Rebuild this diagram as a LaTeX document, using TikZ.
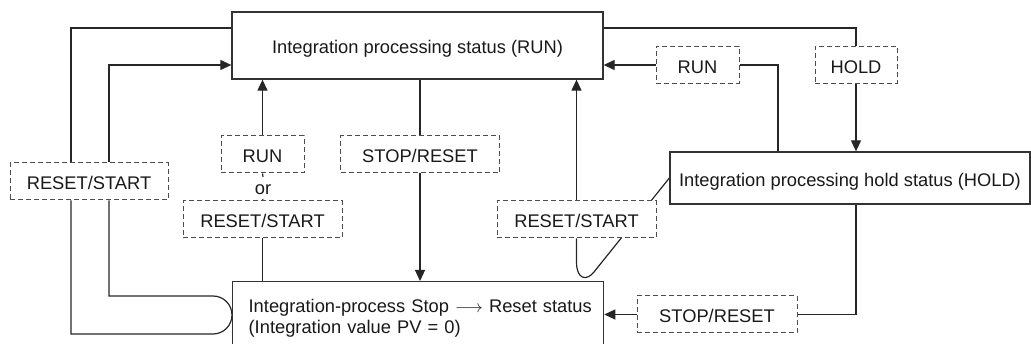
\documentclass[tikz,border=0pt]{standalone}
\usepackage{fontspec}
\setmainfont{Liberation Sans}
\usetikzlibrary{arrows.meta,backgrounds}
\tikzset{
  box/.style={draw=black!80,line width=1.3pt,fill=white,inner sep=0pt},
  status/.style={box,text height=17pt,text depth=0pt},
  cond/.style={draw=black!70,dash pattern=on 5pt off 3pt,line width=1pt,fill=white,
    minimum height=37pt,inner sep=0pt,text height=17pt,text depth=0pt},
  wire/.style={draw=black!85,line width=1.2pt},
  flow/.style={wire,-{Triangle[length=11pt,width=10pt]}},
}

\begin{document}
\begin{tikzpicture}[x=1pt,y=-1pt,font=\fontsize{18.3pt}{21pt}\selectfont,text=black!90]
\path[use as bounding box,clip] (0,0) rectangle (1031,344);
% states
\node[status,minimum width=371pt,minimum height=67pt] (run) at (417.5,45.5) {Integration processing status (RUN)};
\node[status,minimum width=360pt,minimum height=52pt] (hold) at (850,178) {Integration processing hold status (HOLD)};
\node[box,anchor=north west,minimum width=371pt,minimum height=73pt,inner xsep=16pt,
  text width=339pt,align=left] (stop) at (232,281) {\mbox{Integration-process Stop $\longrightarrow$ Reset status}\\(Integration value PV = 0)};
% conditions
\node[cond,minimum width=158pt] (lrs) at (89,181.5) {RESET/START};
\node[cond,minimum width=83pt] (mrun) at (262.5,154.5) {RUN};
\node[inner sep=0pt,text height=18pt,text depth=4pt,anchor=base] (orlbl) at (263,195) {or};
\node[cond,minimum width=159pt] (mrs) at (262.5,219.5) {RESET/START};
\node[cond,minimum width=159pt] (stopreset) at (420,154.5) {STOP/RESET};
\node[cond,minimum width=159pt] (rrs) at (576.5,219.5) {RESET/START};
\node[cond,minimum width=83pt] (rrun) at (697.5,65) {RUN};
\node[cond,minimum width=82pt] (hcond) at (856,65) {HOLD};
\node[cond,minimum width=160pt] (rstop) at (717,314.5) {STOP/RESET};
% helper coordinates
\coordinate (upper) at (0,28);
\coordinate (lout) at (71,334);
\coordinate (lturn) at (213,334);
\coordinate (lin) at (109,65);
\coordinate (rdrop) at (778,0);
\coordinate (jtop) at (0,262);
\coordinate (jend) at (594,272);
\begin{pgfonlayer}{background}
% left loop
\draw[wire] (run.west |- upper) -| (lrs.north -| lout);
\draw[wire] (lrs.south -| lout) -- (lout) -- (lturn) arc[start angle=90,end angle=-90,radius=19] -| (lrs.south -| lin);
\draw[flow] (lrs.north -| lin) |- (run.west |- lin);
% middle
\draw[flow] (mrun.north) -- (run.south -| mrun.north);
\draw[wire] (mrun.south) -- (orlbl.north);
\draw[wire] (orlbl.south) -- (mrs.north);
\draw[wire] (mrs.south) -- (stop.north -| mrs.south);
\draw[wire] (run.south -| stopreset.north) -- (stopreset.north);
\draw[flow] (stopreset.south) -- (stop.north -| stopreset.south);
\draw[flow] (rrs.north) -- (run.south -| rrs.north);
\draw[wire] (rrs.south) -- (rrs.south |- jtop) .. controls +(0,18) and +(-7,9) .. (jend) -- (hold.west);
% right side
\draw[flow] (rrun.west) -- (run.east |- rrun.west);
\draw[wire] (rrun.east) -| (hold.north -| rdrop);
\draw[wire] (run.east |- upper) -| (hcond.north);
\draw[flow] (hcond.south) -- (hold.north -| hcond.south);
\draw[wire] (hold.south -| hcond.south) |- (rstop.east);
\draw[flow] (rstop.west) -- (stop.east |- rstop.west);
\end{pgfonlayer}
\end{tikzpicture}
\end{document}
